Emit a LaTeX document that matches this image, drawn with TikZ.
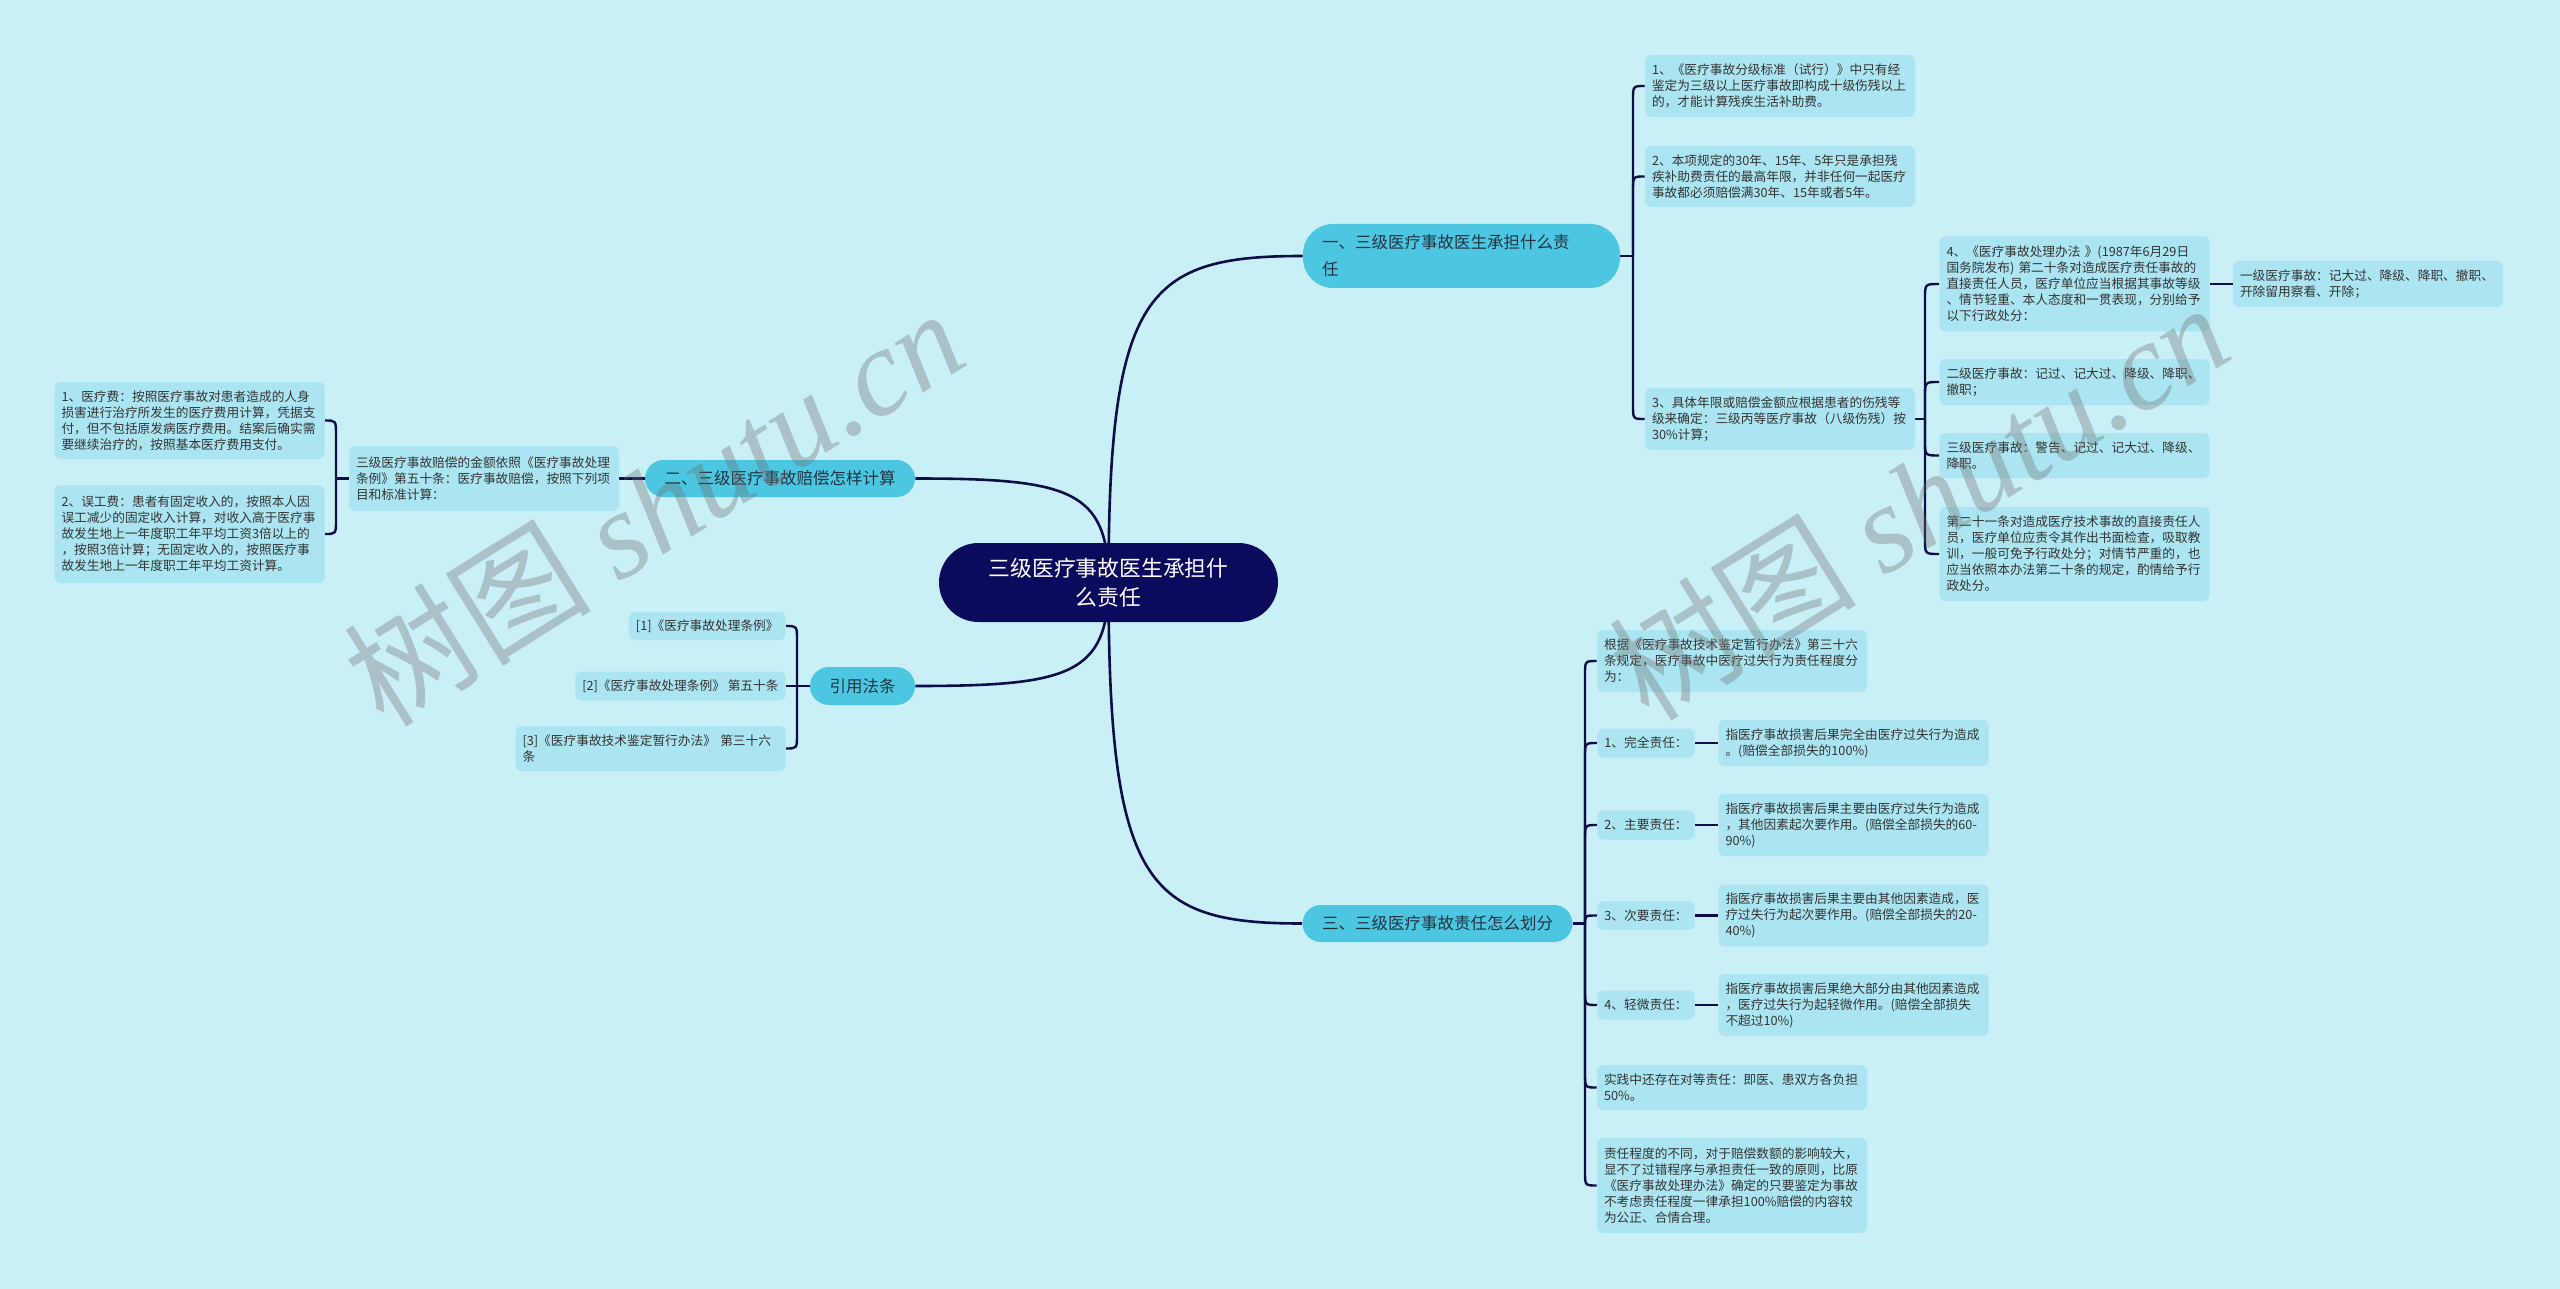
\documentclass[tikz,border=0pt]{standalone}
\usepackage{fontspec}
\setmainfont{Noto Sans CJK SC}
\newfontfamily\wmlatin{Liberation Serif}
\usetikzlibrary{calc}
\pgfdeclarelayer{bg}
\pgfsetlayers{bg,main}
\definecolor{bgc}{RGB}{201,239,247}
\definecolor{leafc}{RGB}{172,229,242}
\definecolor{lonec}{RGB}{76,198,225}
\definecolor{cenc}{RGB}{11,11,94}
\definecolor{linec}{RGB}{13,13,72}
\definecolor{leaftext}{RGB}{51,51,51}
\definecolor{lonetext}{RGB}{34,52,66}
\definecolor{wmc}{RGB}{110,110,110}
\tikzset{
  leaf/.style={fill=leafc, rounded corners=3pt, inner xsep=3.5pt, inner ysep=0pt,
    align=left, text=leaftext, font=\fontsize{6.35pt}{8pt}\selectfont},
  wleaf/.style={leaf, text width=128pt},
  lone/.style={fill=lonec, inner xsep=9.5pt, inner ysep=0pt, text=lonetext,
    font=\fontsize{8.25pt}{13.5pt}\selectfont},
  conn/.style={draw=linec, line width=1.2pt},
  mainline/.style={draw=linec, line width=1.3pt},
}
\begin{document}
\begin{tikzpicture}[x=0.5pt,y=-0.5pt]
\begin{pgfonlayer}{bg}
\fill[bgc] (0,0) rectangle (2560,1289);
\end{pgfonlayer}
\useasboundingbox (0,0) rectangle (2560,1289);

% central
\node[fill=cenc, rounded corners=19.75pt, minimum width=169.5pt, minimum height=39.5pt,
  align=center, text=white, font=\fontsize{10.9pt}{14.5pt}\selectfont, inner sep=0pt]
  (cen) at (1108.5,582.5) {三级医疗事故医生承担什\\么责任};

% level one
\node[lone, rounded corners=15pt, minimum height=32pt, text width=139.5pt, align=left]
  (A) at (1461.5,256) {一、三级医疗事故医生承担什么责\\任};
\node[lone, rounded corners=9.25pt, minimum width=135pt, minimum height=18.5pt, align=center]
  (B) at (780,478.5) {二、三级医疗事故赔偿怎样计算};
\node[lone, rounded corners=9.5pt, minimum width=52.5pt, minimum height=19pt, align=center]
  (C) at (862.5,686) {引用法条};
\node[lone, rounded corners=9.25pt, minimum width=135pt, minimum height=18.5pt, align=center]
  (D) at (1437.5,923.5) {三、三级医疗事故责任怎么划分};

% branch A
\node[wleaf, minimum height=31pt] (A1) at (1780,86)
 {1、《医疗事故分级标准（试行）》中只有经\\鉴定为三级以上医疗事故即构成十级伤残以上\\的，才能计算残疾生活补助费。};
\node[wleaf, minimum height=30.5pt] (A2) at (1780,176.5)
 {2、本项规定的30年、15年、5年只是承担残\\疾补助费责任的最高年限，并非任何一起医疗\\事故都必须赔偿满30年、15年或者5年。};
\node[wleaf, minimum height=31pt] (A3) at (1780,419)
 {3、具体年限或赔偿金额应根据患者的伤残等\\级来确定：三级丙等医疗事故（八级伤残）按\\30\%计算；};
\node[wleaf, minimum height=47.5pt] (A3a) at (2074.5,284)
 {4、《医疗事故处理办法 》(1987年6月29日\\国务院发布) 第二十条对造成医疗责任事故的\\直接责任人员，医疗单位应当根据其事故等级\\、情节轻重、本人态度和一贯表现，分别给予\\以下行政处分：};
\node[wleaf, minimum height=23pt] (A3a1) at (2368,284)
 {一级医疗事故：记大过、降级、降职、撤职、\\开除留用察看、开除；};
\node[wleaf, minimum height=23pt] (A3b) at (2074.5,382)
 {二级医疗事故：记过、记大过、降级、降职、\\撤职；};
\node[wleaf, minimum height=22.5pt] (A3c) at (2074.5,455.5)
 {三级医疗事故：警告、记过、记大过、降级、\\降职。};
\node[wleaf, minimum height=47pt] (A3d) at (2074.5,554)
 {第二十一条对造成医疗技术事故的直接责任人\\员，医疗单位应责令其作出书面检查，吸取教\\训，一般可免予行政处分；对情节严重的，也\\应当依照本办法第二十条的规定，酌情给予行\\政处分。};

% branch B
\node[wleaf, minimum height=32.5pt] (Bm) at (484,478.5)
 {三级医疗事故赔偿的金额依照《医疗事故处理\\条例》第五十条：医疗事故赔偿，按照下列项\\目和标准计算：};
\node[wleaf, minimum height=38.5pt] (B1) at (189.5,420.5)
 {1、医疗费：按照医疗事故对患者造成的人身\\损害进行治疗所发生的医疗费用计算，凭据支\\付，但不包括原发病医疗费用。结案后确实需\\要继续治疗的，按照基本医疗费用支付。};
\node[wleaf, minimum height=49pt] (B2) at (189.5,534)
 {2、误工费：患者有固定收入的，按照本人因\\误工减少的固定收入计算，对收入高于医疗事\\故发生地上一年度职工年平均工资3倍以上的\\，按照3倍计算；无固定收入的，按照医疗事\\故发生地上一年度职工年平均工资计算。};

% branch C
\node[leaf, anchor=east, minimum height=14pt] (C1) at (786,626) {[1]《医疗事故处理条例》};
\node[leaf, anchor=east, minimum height=14.5pt] (C2) at (786,686) {[2]《医疗事故处理条例》 第五十条};
\node[wleaf, anchor=east, minimum height=22.5pt] (C3) at (786,748.5) {[3]《医疗事故技术鉴定暂行办法》 第三十六\\条};

% branch D
\node[wleaf, minimum height=31pt] (D1) at (1732,661)
 {根据《医疗事故技术鉴定暂行办法》第三十六\\条规定，医疗事故中医疗过失行为责任程度分\\为：};
\node[leaf, anchor=west, minimum height=14.5pt] (D2) at (1597,743) {1、完全责任：};
\node[wleaf, minimum height=23pt] (D2a) at (1853.5,743)
 {指医疗事故损害后果完全由医疗过失行为造成\\。(赔偿全部损失的100\%)};
\node[leaf, anchor=west, minimum height=14.5pt] (D3) at (1597,825) {2、主要责任：};
\node[wleaf, minimum height=31pt] (D3a) at (1853.5,825)
 {指医疗事故损害后果主要由医疗过失行为造成\\，其他因素起次要作用。(赔偿全部损失的60-\\90\%)};
\node[leaf, anchor=west, minimum height=14.5pt] (D4) at (1597,915.5) {3、次要责任：};
\node[wleaf, minimum height=31pt] (D4a) at (1853.5,915.5)
 {指医疗事故损害后果主要由其他因素造成，医\\疗过失行为起次要作用。(赔偿全部损失的20-\\40\%)};
\node[leaf, anchor=west, minimum height=14.5pt] (D5) at (1597,1005) {4、轻微责任：};
\node[wleaf, minimum height=31pt] (D5a) at (1853.5,1005)
 {指医疗事故损害后果绝大部分由其他因素造成\\，医疗过失行为起轻微作用。(赔偿全部损失\\不超过10\%)};
\node[wleaf, minimum height=22.5pt] (D6) at (1732,1087.5)
 {实践中还存在对等责任：即医、患双方各负担\\50\%。};
\node[wleaf, minimum height=47.5pt] (D7) at (1732,1185.5)
 {责任程度的不同，对于赔偿数额的影响较大，\\显不了过错程序与承担责任一致的原则，比原\\《医疗事故处理办法》确定的只要鉴定为事故\\不考虑责任程度一律承担100\%赔偿的内容较\\为公正、合情合理。};

\begin{pgfonlayer}{bg}
% main connectors
\draw[mainline] (cen.center) .. controls ($(cen.center |- A.west)!0.11!(cen.center)$) and ($(cen.center |- A.west)!0.2!(A.west)$) .. (A.west);
\draw[mainline] (cen.center) .. controls ($(cen.center |- B.east)!0.11!(cen.center)$) and ($(cen.center |- B.east)!0.2!(B.east)$) .. (B.east);
\draw[mainline] (cen.center) .. controls ($(cen.center |- C.east)!0.11!(cen.center)$) and ($(cen.center |- C.east)!0.2!(C.east)$) .. (C.east);
\draw[mainline] (cen.center) .. controls ($(cen.center |- D.west)!0.11!(cen.center)$) and ($(cen.center |- D.west)!0.2!(D.west)$) .. (D.west);
% A bracket
\draw[conn] (A.east) -- (1633,256);
\draw[conn] (1633,256) -- (1633,100) .. controls (1633,86) .. (A1.west);
\draw[conn] (1633,256) -- (1633,190.5) .. controls (1633,176.5) .. (A2.west);
\draw[conn] (1633,256) -- (1633,405) .. controls (1633,419) .. (A3.west);
% A3 bracket
\draw[conn] (A3.east) -- (1925,419);
\draw[conn] (1925,419) -- (1925,298) .. controls (1925,284) .. (A3a.west);
\draw[conn] (1925,419) -- (1925,396) .. controls (1925,382) .. (A3b.west);
\draw[conn] (1925,419) -- (1925,441.5) .. controls (1925,455.5) .. (A3c.west);
\draw[conn] (1925,419) -- (1925,540) .. controls (1925,554) .. (A3d.west);
\draw[conn] (A3a.east) -- (A3a1.west);
% B
\draw[conn] (B.west) -- (Bm.east);
\draw[conn] (Bm.west) -- (336,478.5);
\draw[conn] (336,478.5) -- (336,434.5) .. controls (336,420.5) .. (B1.east);
\draw[conn] (336,478.5) -- (336,520) .. controls (336,534) .. (B2.east);
% C
\draw[conn] (C.west) -- (797,686);
\draw[conn] (797,686) -- (797,640) .. controls (797,626) .. (C1.east);
\draw[conn] (797,686) -- (C2.east);
\draw[conn] (797,686) -- (797,734.5) .. controls (797,748.5) .. (C3.east);
% D
\draw[conn] (D.east) -- (1585,923.5);
\draw[conn] (1585,923.5) -- (1585,675) .. controls (1585,661) .. (D1.west);
\draw[conn] (1585,923.5) -- (1585,757) .. controls (1585,743) .. (D2.west);
\draw[conn] (1585,923.5) -- (1585,839) .. controls (1585,825) .. (D3.west);
\draw[conn] (1585,923.5) .. controls (1585,915.5) .. (D4.west);
\draw[conn] (1585,923.5) -- (1585,991) .. controls (1585,1005) .. (D5.west);
\draw[conn] (1585,923.5) -- (1585,1073.5) .. controls (1585,1087.5) .. (D6.west);
\draw[conn] (1585,923.5) -- (1585,1171.5) .. controls (1585,1185.5) .. (D7.west);
\draw[conn] (D2.east) -- (D2a.west);
\draw[conn] (D3.east) -- (D3a.west);
\draw[conn] (D4.east) -- (D4a.west);
\draw[conn] (D5.east) -- (D5a.west);
\end{pgfonlayer}

% watermarks
\node[rotate=32, text=wmc, opacity=0.35, font=\fontsize{62pt}{62pt}\selectfont] (wm1) at (653,506) {树图 {\wmlatin\itshape shutu.cn}};
\node[rotate=32, text=wmc, opacity=0.35, font=\fontsize{62pt}{62pt}\selectfont] (wm2) at (1918,500) {树图 {\wmlatin\itshape shutu.cn}};
\end{tikzpicture}
\end{document}
